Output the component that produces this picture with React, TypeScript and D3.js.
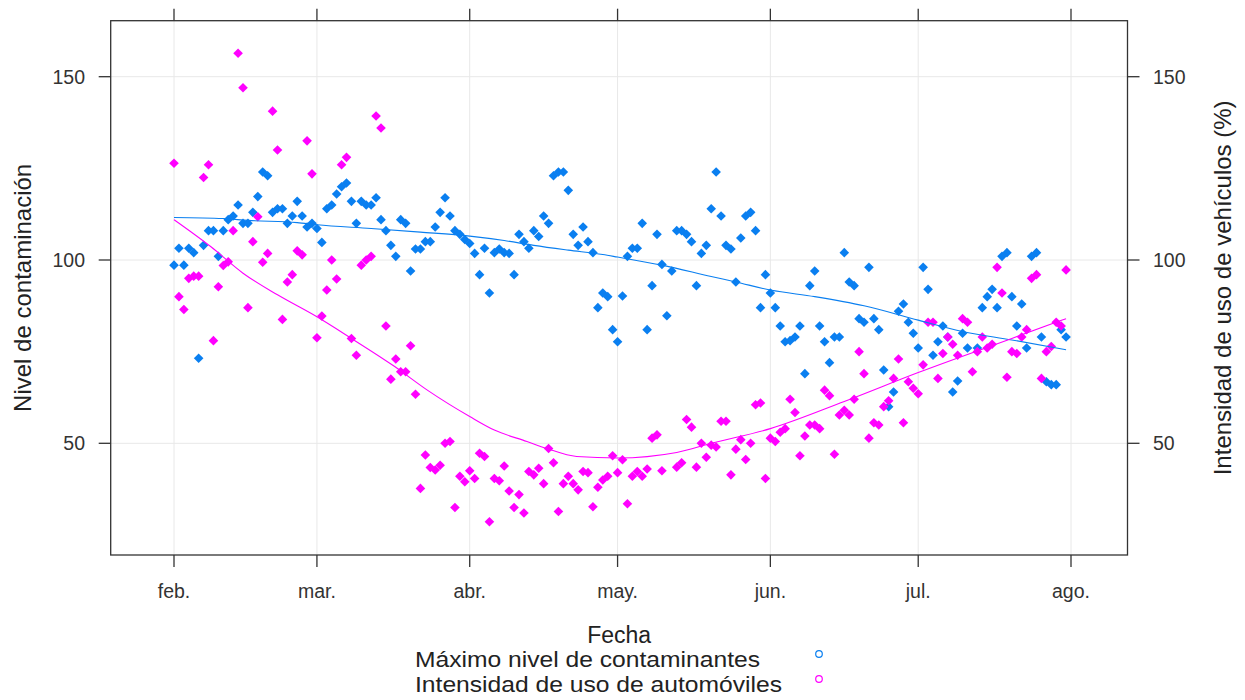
import React from "react";
import * as d3 from "d3";

// ---- Data (daily values starting Feb 1, 2020) ----
const contaminantes: (number | null)[] = [
  98.6, 103.2, 98.6, 103.2, 102, 73.2, 104, 108, 108, 101,
  108, 111, 112, 115, 110, 110, 113, 117.3, 124, 123,
  113, 114, 114, 110, 112, 116, 112, 109, 110, 108.6,
  104.8, 114, 115, 118, 120, 121, 116, 110, 116, 115,
  115, 117, 111, 108, 104, 101, 111, 110, 97, 103,
  103, 105, 105, 109, 113, 117, 112, 108, 107, 105.6,
  104.5, 101.8, 96, 103.2, 91, 102, 103, 102, 101.8, 96,
  107, 105, 103.2, 108, 106.4, 112, 110, 123, 124, 124,
  119, 107, 104, 109, 105, 102, 87, 91, 90, 81,
  77.7, 90.2, 101, 103.2, 103.2, 110, 81, 93, 107, 98.8,
  84.8, 97, 108, 108, 107, 105, 93, 101.8, 104, 114,
  124, 112, 104, 103, 94, 106, 112, 113, 108, 87,
  96, 91, 87, 82, 77.7, 78, 79, 82, 69, 93,
  97, 82, 77.7, 72, 79, 79, 102, 94, 93, 84,
  83, 98, 84, 81, 70, 60, 64, 86, 88, 83,
  80, 76, 98, 92, 74, 77.7, 82, 79, 64, 67,
  80, 76, null, 76, 87, 90, 92, 87, 101, 102,
  90, 82, 88, 76, 101, 102, 79, 66.8, 66, 66,
  81, 79,
];

const automoviles: (number | null)[] = [
  126.4, 90, 86.5, 95, 95.6, 95.6, 122.5, 126, 78, 92.7,
  98.5, 99.5, 108, 156.4, 147, 87, 105, 111.8, 99.4, 101.8,
  140.6, 130, 83.8, 94, 96, 102.5, 101.4, 132.5, 123.5, 78.8,
  84.7, 91.8, 100, 94.8, 126, 128, 78.6, 74, 98.6, 100,
  101, 139.3, 136, 82, 67.5, 73, 69.5, 69.5, 76.6, 63.4,
  37.7, 46.8, 43.4, 42.7, 44, 50, 50.5, 32.5, 41, 39.5,
  42.5, 40.4, 47.3, 46.4, 28.6, 40.4, 39.8, 43.8, 37, 32.5,
  36, 31, 42.3, 41.4, 43.2, 39, 48.6, 44.7, 31.4, 39,
  41, 39, 37.3, 42.3, 42, 32.7, 38, 40, 41, 46.6,
  42, 45.5, 33.5, 41, 42.3, 41, 43, 51.4, 52.3, 42.5,
  null, null, 43.5, 44.7, 56.5, 54.4, 43.5, 50, 46.2, 49.5,
  49, 56, 56, 41.4, 48.4, 51, 45.6, 50, 60.5, 61,
  40.4, 51.4, 50.5, 53, 54, 62, 58.4, 46.6, 52, 55,
  55, 54, 64.5, 63, 47, 57.7, 59, 57.7, 62, 75,
  69, 51.4, 55.6, 55, 60, 61.6, 67.7, 73, 55.6, 66.8,
  65, 63.5, 71.4, 83, 83, 67.7, 74.5, 79, 77, 74,
  84, 83, 69.5, 75, 79, 76, 77, 98, 91, 68,
  75, 74.5, 79, 81, 95, 96, 67.7, 75, 76.4, 83,
  82, 97.3,
];

// Smoothed (loess) curves: [day offset, value]
const smoothContDays = [0, 10, 15, 25, 29, 40, 50, 60, 67, 73, 80, 87, 90, 99, 109, 114, 121, 130, 140, 151, 160, 170, 181];
const smoothContVals = [111.6, 111.3, 110.8, 110.2, 109.6, 108.6, 107.6, 106.5, 105.3, 104, 102.7, 101.5, 100.8, 98.6, 95.5, 94, 91.8, 90, 87.5, 83.6, 80.5, 78.2, 75.5];
const smoothAutoDays = [0, 7.5, 14, 21, 29, 36, 44.7, 51.4, 60, 65, 71.6, 75.6, 81.7, 90, 102, 109, 121, 136, 151, 170, 181];
const smoothAutoVals = [111, 103.6, 96.4, 90.5, 84.5, 78.6, 71, 64.5, 57.3, 53.6, 50.5, 48.6, 46.4, 46, 47.5, 50, 54, 61.4, 69.3, 78.6, 84];

const monthLabels = ["feb.", "mar.", "abr.", "may.", "jun.", "jul.", "ago."];
const yTicks = [50, 100, 150];
const seriesNames = ["Máximo nivel de contaminantes", "Intensidad de uso de automóviles"];
const seriesColors = ["#0a7ff0", "#ff00ff"];

const START = new Date(2020, 1, 1);
const END = new Date(2020, 7, 1);

export default function App() {
  const W = 1245, H = 700;
  const left = 110.7, right = 1127.5, top = 20.7, bottom = 555;
  const x = d3.scaleTime().domain([START, END]).range([174, 1071]);
  const y = d3.scaleLinear().domain([50, 150]).range([443.3, 76.7]);
  const dayDate = (d: number) => new Date(START.getTime() + d * 86400000);
  const monthTicks = monthLabels.map((_, i) => new Date(2020, 1 + i, 1));
  const font = "'Liberation Sans', Arial, Helvetica, sans-serif";
  const diamond = (r: number) => `M0,${-r}L${r},0L0,${r}L${-r},0Z`;

  const line = d3
    .line<[number, number]>()
    .x((p) => x(dayDate(p[0])))
    .y((p) => y(p[1]))
    .curve(d3.curveMonotoneX);

  const contSmooth = line(smoothContDays.map((d, i) => [d, smoothContVals[i]] as [number, number])) || "";
  const autoSmooth = line(smoothAutoDays.map((d, i) => [d, smoothAutoVals[i]] as [number, number])) || "";

  const series = [contaminantes, automoviles];
  const legendWidths = [345, 367];

  return (
    <svg width={W} height={H} style={{ position: "absolute", left: 0, top: 0, background: "#fff" }} fontFamily={font}>
      <defs>
        <clipPath id="plotclip">
          <rect x={left} y={top} width={right - left} height={bottom - top} />
        </clipPath>
      </defs>
      {/* grid */}
      {monthTicks.map((m, i) => (
        <line key={"gx" + i} x1={x(m)} x2={x(m)} y1={top} y2={bottom} stroke="#e8e8e8" strokeWidth={1} />
      ))}
      {yTicks.map((t) => (
        <line key={"gy" + t} x1={left} x2={right} y1={y(t)} y2={y(t)} stroke="#e8e8e8" strokeWidth={1} />
      ))}
      {/* points */}
      <g clipPath="url(#plotclip)">
        {series.map((s, si) =>
          s.map((v, d) =>
            v == null ? null : (
              <path
                key={si + "-" + d}
                d={diamond(4.8)}
                transform={`translate(${x(dayDate(d))},${y(v)})`}
                fill={seriesColors[si]}
              />
            )
          )
        )}
        <path d={contSmooth} fill="none" stroke={seriesColors[0]} strokeWidth={1.1} />
        <path d={autoSmooth} fill="none" stroke={seriesColors[1]} strokeWidth={1.1} />
      </g>
      {/* frame */}
      <rect x={left} y={top} width={right - left} height={bottom - top} fill="none" stroke="#333" strokeWidth={1.3} />
      {/* x ticks top & bottom */}
      {monthTicks.map((m, i) => (
        <g key={"xt" + i}>
          <line x1={x(m)} x2={x(m)} y1={top} y2={top - 12} stroke="#333" strokeWidth={1.3} />
          <line x1={x(m)} x2={x(m)} y1={bottom} y2={bottom + 12} stroke="#333" strokeWidth={1.3} />
          <text x={x(m)} y={598} textAnchor="middle" fontSize={19.5} fill="#333">
            {monthLabels[i]}
          </text>
        </g>
      ))}
      {/* y ticks left & right */}
      {yTicks.map((t) => (
        <g key={"yt" + t}>
          <line x1={left} x2={left - 12} y1={y(t)} y2={y(t)} stroke="#333" strokeWidth={1.3} />
          <line x1={right} x2={right + 12} y1={y(t)} y2={y(t)} stroke="#333" strokeWidth={1.3} />
          <text x={85} y={y(t) + 7} textAnchor="end" fontSize={19.5} fill="#333">
            {t}
          </text>
          <text x={1153} y={y(t) + 7} textAnchor="start" fontSize={19.5} fill="#333">
            {t}
          </text>
        </g>
      ))}
      {/* axis titles */}
      <text transform={`translate(31,${(top + bottom) / 2}) rotate(-90)`} textAnchor="middle" fontSize={24} fill="#222">
        Nivel de contaminación
      </text>
      <text transform={`translate(1231,${(top + bottom) / 2}) rotate(-90)`} textAnchor="middle" fontSize={24} fill="#222">
        Intensidad de uso de vehículos (%)
      </text>
      <text x={(left + right) / 2} y={643} textAnchor="middle" fontSize={23} fill="#222">
        Fecha
      </text>
      {/* legend */}
      {seriesNames.map((n, i) => (
        <g key={"lg" + i}>
          <text
            x={415}
            y={667 + i * 25}
            fontSize={22}
            fill="#222"
            textLength={legendWidths[i]}
            lengthAdjust="spacingAndGlyphs"
          >
            {n}
          </text>
          <circle cx={819} cy={654 + i * 25} r={3.3} fill="none" stroke={seriesColors[i]} strokeWidth={1.2} />
        </g>
      ))}
    </svg>
  );
}
